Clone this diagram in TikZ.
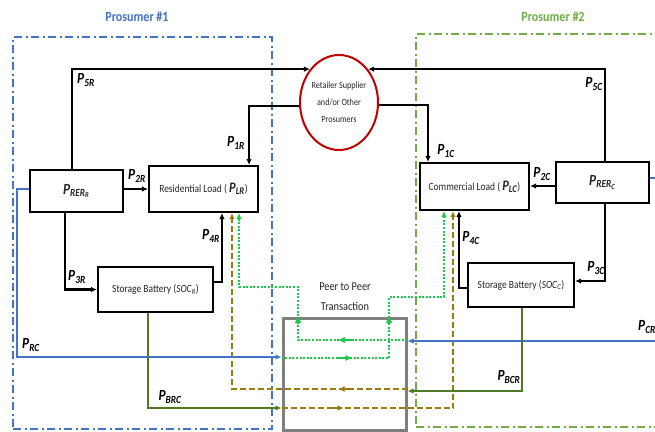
\documentclass[tikz,border=0pt]{standalone}
\usepackage{fontspec}
\setmainfont{Carlito}[FakeStretch=0.86]
\usetikzlibrary{arrows.meta,shapes.geometric,decorations.markings}
\definecolor{pblue}{HTML}{4472C4}
\definecolor{pgreen}{HTML}{70AD47}
\definecolor{cred}{HTML}{C00000}
\definecolor{dgreen}{HTML}{4E7A2A}
\definecolor{brn}{HTML}{9C7A12}
\definecolor{lgreen}{HTML}{1DC94A}
\definecolor{gbox}{HTML}{7F7F7F}
\begin{document}
\begin{tikzpicture}[x=1pt,y=-1pt,
  box/.style={draw, line width=2.1pt, rectangle, inner sep=0pt, align=center, text=black!85, font=\fontsize{11}{12}\selectfont},
  lbl/.style={font=\fontsize{15.5}{16}\selectfont\bfseries\itshape, inner sep=0pt},
  title/.style={font=\fontsize{14}{16}\selectfont\bfseries, inner sep=0pt},
  tip/.style={-{Latex[length=6pt,width=5.5pt]}},
  blk/.style={line width=2.1pt, black, tip},
  bluel/.style={line width=2.3pt, pblue, tip},
  dgl/.style={line width=2.1pt, dgreen, tip},
  brl/.style={line width=2.3pt, brn, dash pattern=on 6pt off 3pt, tip},
  grl/.style={line width=2pt, lgreen, dash pattern=on 2pt off 1.6pt, tip},
  midmark/.style 2 args={postaction=decorate, decoration={markings,
     mark=at position #1 with {\draw[#2, solid, line width=2.8pt, -{Latex[length=6pt,width=6pt]}] (-11pt,0) -- (3pt,0);}}},
  topmark/.style 2 args={postaction=decorate, decoration={markings,
     mark=at position #1 with {\fill[#2] (2.5pt,0) -- (-3.5pt,3pt) -- (-3.5pt,-3pt) -- cycle;}}},
  frame1/.style={draw=pblue, line width=1.6pt, dash pattern=on 8pt off 3.5pt on 2pt off 3.5pt, inner sep=0pt},
  frame2/.style={draw=pgreen, line width=1.6pt, dash pattern=on 8pt off 3.5pt on 2pt off 3.5pt, inner sep=0pt}
]
\useasboundingbox (0,0) rectangle (655,431);
\clip (0,0) rectangle (655,431);
\fill[white] (0,0) rectangle (655,431);

% frames and titles
\node[frame1, minimum width=259pt, minimum height=392pt] (f1) at (142.5,233) {};
\node[frame2, minimum width=284pt, minimum height=393pt] (f2) at (558,230.5) {};
\node[title, text=pblue] (t1) at (137,17) {Prosumer \#1};
\node[title, text=pgreen] (t2) at (553,17) {Prosumer \#2};

% main nodes
\node[draw=cred, line width=2pt, ellipse, minimum width=78pt, minimum height=95pt, inner sep=0pt,
      align=center, text=black!85, font=\fontsize{9.5}{17}\selectfont] (circ) at (339,102.5)
      {Retailer Supplier\\and/or Other\\Prosumers};
\node[box, minimum width=93pt, minimum height=42pt, font=\fontsize{15.5}{16}\selectfont\bfseries\itshape] (prerR) at (76.5,191)
      {P\textsubscript{RER\textsubscript{R}}};
\node[box, minimum width=109pt, minimum height=46pt] (resL) at (203.5,189)
      {Residential Load ( {\fontsize{14.5}{15}\selectfont\bfseries\itshape P\textsubscript{LR}})};
\node[box, minimum width=109pt, minimum height=47pt] (comL) at (474.5,186.5)
      {Commercial Load ( {\fontsize{14.5}{15}\selectfont\bfseries\itshape P\textsubscript{LC}})};
\node[box, minimum width=93pt, minimum height=41pt, font=\fontsize{15.5}{16}\selectfont\bfseries\itshape] (prerC) at (602.5,182.5)
      {P\textsubscript{RER\textsubscript{C}}};
\node[box, minimum width=115pt, minimum height=45pt] (batR) at (155.5,289.5)
      {Storage Battery (\textit{SOC}\textsubscript{\textit{R}})};
\node[box, minimum width=106pt, minimum height=44pt] (batC) at (521,285)
      {Storage Battery (\textit{SOC}\textsubscript{\textit{C}})};
\node[draw=gbox, line width=3pt, rectangle, inner sep=0pt, minimum width=123pt, minimum height=112pt] (p2p) at (344.5,374) {};
\node[align=center, text=black!85, font=\fontsize{12}{20}\selectfont, inner sep=0pt] (p2pt) at (345,297) {Peer to Peer\\Transaction};

% helper coordinates
\coordinate (cRC) at (17,357);
\coordinate (cCR) at (670,341);
\coordinate (cBRC) at (148,408);
\coordinate (cBCR) at (522,391);
\coordinate (cBu) at (232,389);
\coordinate (cBl) at (453,408);
\coordinate (cGu1) at (298,340);
\coordinate (cGu2) at (239,287);
\coordinate (cGl1) at (389,358);
\coordinate (cGl2) at (444,297);

% P2P flows
\draw[brl, midmark={66pt}{brn}] (p2p.east |- cBu) -- (cBu) -- (cBu |- resL.south);
\draw[brl, midmark={59pt}{brn}] (p2p.west |- cBl) -- (cBl) -- (cBl |- comL.south);
\draw[grl, midmark={66pt}{lgreen}, topmark={130pt}{lgreen}] (p2p.east |- cGu1) -- (cGu1) |- (cGu2) -- (cGu2 |- resL.south);
\draw[grl, midmark={67pt}{lgreen}, topmark={146pt}{lgreen}] (p2p.west |- cGl1) -- (cGl1) |- (cGl2) -- (cGl2 |- comL.south);

\draw[bluel] ([yshift=2pt]prerR.west) -| (cRC) -- (cRC -| p2p.west);
\draw[bluel] ([yshift=4.5pt]prerC.east) -| (cCR) -- (cCR -| p2p.east);
\draw[dgl] ([xshift=-7.5pt]batR.south) |- (p2p.west |- cBRC);
\draw[dgl] ([xshift=1pt]batC.south) |- (p2p.east |- cBCR);

% black flows
\draw[blk] ([xshift=-4.5pt]prerR.north) |- (circ.131);
\draw[blk] ([yshift=-3.5pt]circ.west) -| ([xshift=-10pt]resL.north east);
\draw[blk] ([xshift=2.5pt]prerC.north) |- (circ.49);
\draw[blk] ([yshift=-2.5pt]circ.east) -| ([xshift=9pt]comL.north west);
\draw[blk] ([yshift=2pt]prerR.east) -- ([yshift=2pt]prerR.east -| resL.west);
\draw[blk] ([yshift=-3.5pt]prerC.west) -- ([yshift=-3.5pt]prerC.west -| comL.east);
\draw[blk] ([xshift=-11.5pt]prerR.south) |- (batR.west);
\draw[blk] ([yshift=7.5pt]batR.east) -| ([xshift=74pt]resL.south west);
\draw[blk] ([xshift=2.5pt]prerC.south) |- ([yshift=4pt]batC.east);
\draw[blk] ([yshift=-3pt]batC.west) -| ([xshift=40pt]comL.south west);

% labels
\node[lbl] (l5r) at (86,80) {P\textsubscript{5R}};
\node[lbl] (l1r) at (236,143) {P\textsubscript{1R}};
\node[lbl] (l2r) at (137,176) {P\textsubscript{2R}};
\node[lbl] (l3r) at (77,277) {P\textsubscript{3R}};
\node[lbl] (l4r) at (211,236) {P\textsubscript{4R}};
\node[lbl] (lrc) at (31,345) {P\textsubscript{RC}};
\node[lbl] (lbrc) at (170,397) {P\textsubscript{BRC}};
\node[lbl] (l5c) at (594,84) {P\textsubscript{5C}};
\node[lbl] (l1c) at (446,151) {P\textsubscript{1C}};
\node[lbl] (l2c) at (542,174) {P\textsubscript{2C}};
\node[lbl] (l3c) at (596,268) {P\textsubscript{3C}};
\node[lbl] (l4c) at (471,238) {P\textsubscript{4C}};
\node[lbl] (lbcr) at (509,377) {P\textsubscript{BCR}};
\node[lbl, anchor=west] (lcr) at (638,327) {P\textsubscript{CR}};
\end{tikzpicture}
\end{document}
